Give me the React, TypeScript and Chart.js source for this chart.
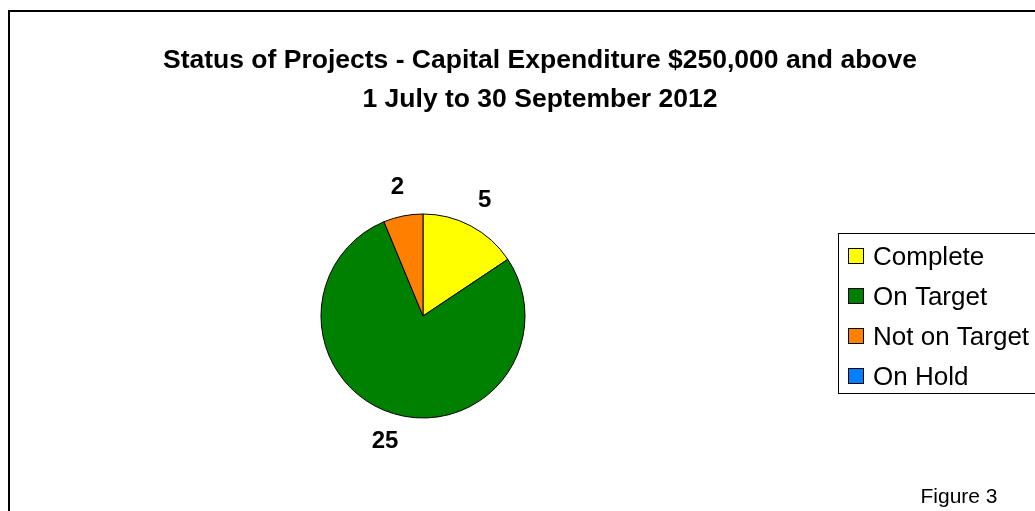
import React, { useEffect, useRef } from "react";
import { Chart, registerables } from "chart.js";

Chart.register(...registerables);

const categories = ["Complete", "On Target", "Not on Target", "On Hold"];
const values = [5, 25, 2, 0];
const colors = ["#FFFF00", "#008000", "#FF8000", "#0080FF"];
const titleLines = [
  "Status of Projects - Capital Expenditure $250,000 and above",
  "1 July to 30 September 2012",
];
const footnote = "Figure 3";

const FONT = "'Liberation Sans', Arial, sans-serif";

const overlayPlugin = {
  id: "overlay",
  afterDraw(chart: any) {
    const ctx = chart.ctx as CanvasRenderingContext2D;
    ctx.save();
    ctx.fillStyle = "#000";
    ctx.textAlign = "center";
    ctx.textBaseline = "middle";

    // title
    ctx.font = `bold 26.5px ${FONT}`;
    titleLines.forEach((t, i) => ctx.fillText(t, 540, 61 + i * 39));

    // data labels
    const meta = chart.getDatasetMeta(0);
    ctx.font = `bold 24px ${FONT}`;
    meta.data.forEach((arc: any, i: number) => {
      const v = values[i];
      if (!v) return;
      const p = arc.getProps(["x", "y", "startAngle", "endAngle", "outerRadius"], true);
      const mid = (p.startAngle + p.endAngle) / 2;
      const d = p.outerRadius + 29;
      ctx.fillText(String(v), p.x + d * Math.cos(mid), p.y + d * Math.sin(mid));
    });

    // legend
    ctx.lineWidth = 1;
    ctx.strokeStyle = "#000";
    ctx.strokeRect(838.5, 233.5, 300, 160);
    ctx.textAlign = "left";
    ctx.font = `26px ${FONT}`;
    categories.forEach((c, i) => {
      const y = 257 + i * 40;
      ctx.fillStyle = colors[i];
      ctx.fillRect(848.5, y - 8.5, 15, 15);
      ctx.strokeRect(848.5, y - 8.5, 15, 15);
      ctx.fillStyle = "#000";
      ctx.fillText(c, 873, y + 1);
    });

    // footnote
    ctx.textAlign = "center";
    ctx.font = `21px ${FONT}`;
    ctx.fillText(footnote, 959, 497);
    ctx.restore();
  },
};

export default function App() {
  const ref = useRef<HTMLCanvasElement | null>(null);
  useEffect(() => {
    document.body.style.overflow = "hidden";
    const canvas = ref.current;
    if (!canvas) return;
    const chart = new Chart(canvas, {
      type: "pie",
      data: {
        labels: categories,
        datasets: [
          {
            data: values,
            backgroundColor: colors,
            borderColor: "#000",
            borderWidth: 1,
          },
        ],
      },
      options: {
        responsive: false,
        animation: false,
        events: [],
        radius: 102,
        layout: { padding: { left: 300, right: 489, top: 200, bottom: 79 } },
        plugins: {
          legend: { display: false },
          title: { display: false },
          tooltip: { enabled: false },
        },
      } as any,
      plugins: [overlayPlugin],
    });
    return () => chart.destroy();
  }, []);

  return (
    <div>
      <div
        style={{
          position: "fixed",
          left: 8,
          top: 10,
          width: 1200,
          height: 700,
          border: "2px solid #000",
          background: "#fff",
        }}
      />
      <canvas
        ref={ref}
        width={1035}
        height={511}
        style={{ position: "fixed", left: 0, top: 0, width: 1035, height: 511 }}
      />
    </div>
  );
}
